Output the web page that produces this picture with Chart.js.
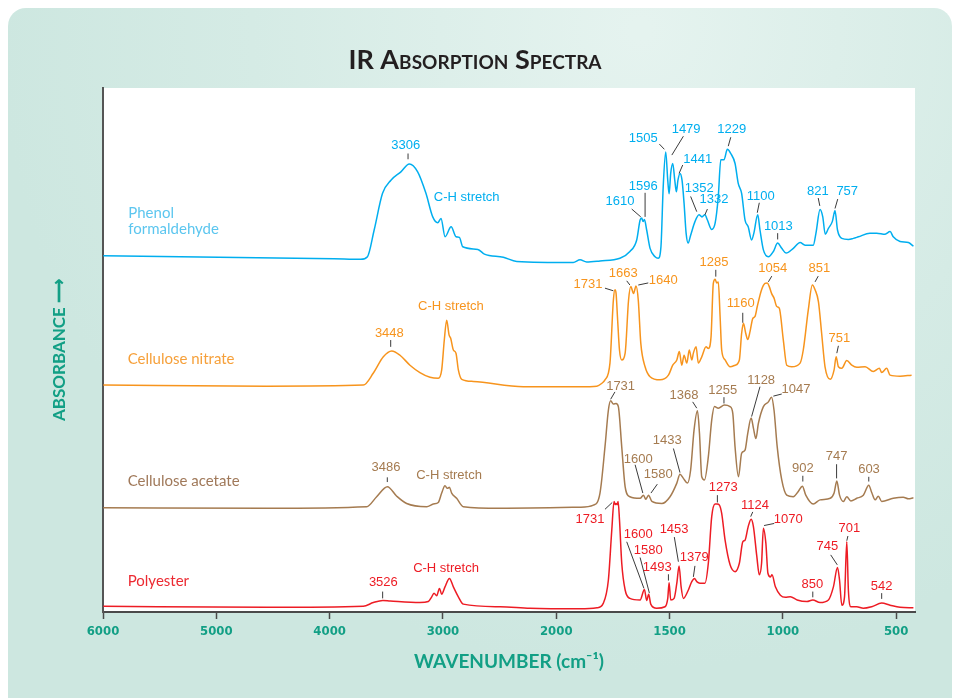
<!DOCTYPE html>
<html>
<head>
<meta charset="utf-8">
<title>IR Absorption Spectra</title>
<script src="https://cdn.jsdelivr.net/npm/chart.js@4.4.1/dist/chart.umd.min.js"></script>
<style>
    html, body { margin: 0; padding: 0; background: #ffffff; }
    #wrap { width: 954px; height: 698px; }
</style>
</head>
<body>
<div id="wrap"><canvas id="irChart" width="954" height="698"></canvas></div>
<script>
// x axis ticks (cm-1); the scale doubles below 2000 like on the printed chart
const xTickLabels = [6000, 5000, 4000, 3000, 2000, 1500, 1000, 500];
const xLowest = 417;

const seriesNames = ['Phenol formaldehyde', 'Cellulose nitrate', 'Cellulose acetate', 'Polyester'];

// Phenol formaldehyde
const phenolWn = [5997, 3961, 3725, 3666, 3607, 3533, 3459, 3371, 3297, 3223, 3150, 3090, 3046, 3017, 2981, 2928, 2884, 2855, 2825, 2692, 2634, 2467, 2349, 1925, 1895, 1866, 1807, 1719, 1675, 1645, 1630, 1623, 1617, 1611, 1601, 1586, 1564, 1550, 1538, 1528, 1517, 1508, 1502, 1495, 1486, 1477, 1470, 1463, 1454, 1445, 1436, 1427, 1418, 1407, 1388, 1370, 1357, 1344, 1333, 1314, 1299, 1285, 1274, 1260, 1245, 1230, 1211, 1197, 1182, 1167, 1153, 1138, 1128, 1111, 1101, 1086, 1064, 1042, 1023, 1005, 986, 954, 924, 902, 866, 854, 836, 824, 813, 799, 782, 770, 759, 740, 711, 689, 667, 616, 586, 549, 527, 513, 483, 446, 424];
const phenolAbs = [68.0, 67.4, 67.3, 67.8, 72.9, 79.9, 82.4, 84.0, 85.5, 84.0, 79.9, 75.4, 74.3, 75.1, 71.6, 73.5, 71.6, 71.5, 69.7, 69.2, 68.3, 67.7, 66.9, 66.7, 67.2, 66.8, 67.0, 67.5, 68.8, 71.0, 74.8, 75.2, 74.5, 74.9, 72.9, 69.4, 67.8, 67.5, 69.7, 81.2, 87.8, 82.4, 79.8, 83.7, 85.6, 82.4, 80.2, 82.4, 83.7, 82.4, 78.0, 72.3, 70.4, 71.9, 74.5, 75.8, 75.4, 75.8, 74.8, 73.0, 74.2, 79.3, 86.3, 86.3, 88.3, 87.5, 85.6, 81.8, 79.9, 74.8, 73.5, 71.0, 72.3, 75.8, 72.9, 69.1, 67.8, 68.8, 70.4, 69.4, 68.5, 69.4, 70.5, 70.0, 70.0, 72.3, 76.8, 75.4, 72.1, 73.2, 74.5, 76.6, 72.9, 71.3, 71.1, 71.3, 71.6, 72.3, 72.3, 72.1, 72.6, 71.6, 70.7, 70.5, 69.8];

// Cellulose nitrate
const nitrateWn = [5997, 4555, 3703, 3614, 3526, 3452, 3379, 3291, 3203, 3114, 3041, 3011, 2988, 2967, 2946, 2931, 2908, 2885, 2864, 2834, 2732, 2290, 1895, 1821, 1800, 1785, 1763, 1748, 1741, 1736, 1730, 1721, 1711, 1696, 1681, 1671, 1659, 1648, 1638, 1627, 1608, 1586, 1542, 1505, 1486, 1468, 1457, 1446, 1436, 1424, 1413, 1402, 1395, 1383, 1373, 1358, 1339, 1329, 1317, 1307, 1299, 1292, 1285, 1277, 1270, 1255, 1233, 1211, 1192, 1182, 1174, 1164, 1155, 1145, 1133, 1123, 1113, 1094, 1079, 1069, 1060, 1050, 1039, 1027, 1016, 998, 983, 961, 924, 910, 888, 870, 858, 843, 829, 814, 791, 774, 765, 755, 740, 718, 696, 674, 637, 601, 574, 564, 542, 527, 483, 432];
const nitrateAbs = [43.3, 43.1, 43.3, 45.6, 48.7, 49.8, 49.0, 47.1, 45.7, 44.8, 44.6, 46.2, 51.9, 55.7, 52.9, 52.2, 50.0, 49.4, 46.2, 44.4, 44.0, 43.0, 43.0, 43.1, 43.6, 44.3, 47.5, 59.5, 61.5, 60.8, 56.4, 50.0, 48.1, 49.4, 59.5, 62.1, 60.8, 62.2, 59.5, 51.3, 46.8, 44.9, 44.3, 45.2, 47.1, 48.1, 49.7, 47.1, 49.0, 47.5, 50.0, 48.1, 49.4, 50.6, 47.5, 48.7, 50.6, 50.3, 52.5, 62.7, 63.5, 62.8, 63.0, 56.4, 50.0, 48.1, 46.8, 47.1, 48.1, 53.2, 55.1, 53.2, 52.0, 53.5, 56.0, 56.4, 58.3, 61.5, 62.7, 62.8, 62.1, 60.8, 59.9, 58.3, 58.0, 51.9, 47.1, 46.8, 47.5, 50.0, 57.6, 62.4, 61.5, 59.2, 53.2, 46.8, 44.4, 46.2, 48.7, 46.8, 46.5, 48.0, 47.1, 46.7, 46.8, 45.9, 46.5, 45.7, 46.5, 45.2, 45.0, 45.2];

// Cellulose acetate
const acetateWn = [5997, 4555, 3673, 3585, 3490, 3408, 3320, 3143, 3085, 3041, 3011, 2982, 2961, 2943, 2923, 2879, 2820, 2496, 1895, 1836, 1807, 1785, 1770, 1760, 1748, 1736, 1726, 1711, 1696, 1675, 1630, 1615, 1605, 1593, 1578, 1534, 1498, 1468, 1454, 1439, 1421, 1407, 1392, 1377, 1368, 1358, 1346, 1329, 1314, 1302, 1285, 1258, 1233, 1221, 1211, 1196, 1182, 1167, 1155, 1140, 1130, 1119, 1108, 1086, 1064, 1050, 1039, 1025, 1005, 983, 954, 932, 914, 899, 866, 836, 791, 774, 762, 750, 733, 718, 700, 674, 645, 621, 608, 593, 579, 564, 513, 469, 446, 424];
const acetateAbs = [19.9, 19.8, 20.1, 22.0, 23.9, 22.1, 20.7, 20.1, 20.6, 20.9, 22.7, 24.1, 23.6, 23.8, 22.7, 21.7, 20.1, 19.8, 20.0, 20.4, 22.7, 31.5, 38.5, 40.3, 39.7, 39.8, 39.2, 31.5, 23.9, 22.0, 21.7, 22.3, 21.5, 22.3, 21.1, 20.7, 22.0, 24.6, 26.3, 25.5, 24.6, 27.1, 34.7, 38.4, 34.1, 25.8, 25.2, 29.6, 36.6, 39.2, 38.9, 39.5, 39.2, 37.9, 31.5, 25.8, 30.3, 30.9, 34.1, 37.0, 35.1, 33.1, 36.0, 39.2, 40.1, 41.0, 38.5, 31.5, 25.2, 22.3, 22.0, 23.0, 24.0, 22.3, 20.6, 21.4, 21.7, 22.7, 25.0, 22.3, 21.1, 22.0, 21.2, 21.7, 22.3, 24.2, 22.8, 21.4, 22.1, 21.1, 21.7, 21.9, 21.6, 21.8];

// Polyester
const polyesterWn = [5997, 4555, 3703, 3614, 3531, 3466, 3203, 3129, 3099, 3079, 3055, 3031, 3011, 2982, 2943, 2908, 2864, 2820, 2496, 2232, 1895, 1820, 1792, 1770, 1755, 1745, 1740, 1736, 1731, 1727, 1721, 1711, 1696, 1675, 1630, 1611, 1601, 1592, 1583, 1557, 1520, 1508, 1502, 1495, 1480, 1468, 1458, 1449, 1439, 1417, 1402, 1390, 1380, 1366, 1344, 1329, 1314, 1299, 1290, 1280, 1270, 1255, 1233, 1211, 1192, 1177, 1167, 1153, 1140, 1130, 1115, 1104, 1094, 1086, 1075, 1066, 1055, 1048, 1033, 1011, 989, 967, 937, 894, 868, 836, 799, 777, 759, 750, 740, 728, 718, 711, 700, 674, 645, 608, 564, 527, 483, 424];
const polyesterAbs = [1.1, 0.9, 1.1, 1.8, 2.2, 2.1, 1.8, 2.0, 2.9, 3.6, 3.1, 4.5, 3.4, 4.8, 6.4, 4.8, 2.9, 1.5, 1.0, 0.7, 0.6, 0.8, 1.7, 6.1, 15.6, 21.1, 20.5, 20.7, 20.5, 21.1, 17.6, 9.3, 4.2, 2.6, 2.3, 4.3, 2.2, 3.4, 1.5, 0.7, 1.0, 2.6, 5.6, 2.3, 2.6, 5.5, 8.8, 4.8, 2.6, 4.2, 5.8, 6.4, 5.8, 5.5, 5.5, 9.3, 18.2, 20.6, 20.6, 20.4, 18.8, 13.7, 9.0, 7.7, 9.3, 13.4, 13.7, 16.3, 17.7, 16.3, 10.6, 7.1, 9.3, 16.0, 13.1, 7.4, 6.7, 7.1, 4.8, 3.2, 2.8, 2.9, 2.3, 2.0, 2.3, 1.8, 2.3, 4.8, 8.5, 6.1, 1.3, 2.9, 13.4, 4.2, 1.0, 1.0, 0.7, 1.0, 1.7, 1.3, 0.9, 0.8];

// peak labels: [text, label cm-1, label level, leader from cm-1, level, leader to cm-1, level]
const phenolNotes = [
    ['3306', 3329, 89.1, 3308, 87.5, 3308, 86.4],
    ['C-H stretch', 2790, 79.1],
    ['1505', 1616, 90.4, 1545, 89.3, 1523, 88.3],
    ['1479', 1427, 92.0, 1439, 90.8, 1490, 87.2],
    ['1441', 1376, 86.4, 1442, 85.3, 1458, 83.7],
    ['1229', 1226, 92.0, 1230, 90.6, 1241, 88.9],
    ['1596', 1616, 81.3, 1608, 80.0, 1608, 75.4],
    ['1610', 1719, 78.3, 1667, 76.9, 1627, 75.4],
    ['1352', 1369, 80.9, 1407, 79.3, 1380, 76.4],
    ['1332', 1304, 78.8, 1333, 76.9, 1344, 75.8],
    ['1100', 1098, 79.4, 1104, 78.1, 1113, 76.2],
    ['1013', 1020, 73.5, 1023, 72.3, 1023, 71.1],
    ['821', 846, 80.3, 844, 79.0, 837, 77.5],
    ['757', 716, 80.2, 758, 78.8, 770, 77.0]
];
const nitrateNotes = [
    ['3448', 3473, 53.2, 3461, 51.9, 3461, 50.6],
    ['C-H stretch', 2929, 58.3],
    ['1731', 1860, 62.6, 1785, 61.8, 1748, 61.3],
    ['1663', 1704, 64.6, 1689, 63.2, 1675, 62.4],
    ['1640', 1528, 63.2, 1594, 62.8, 1638, 62.4],
    ['1285', 1304, 66.7, 1296, 65.3, 1296, 64.0],
    ['1160', 1186, 58.9, 1177, 57.1, 1177, 55.2],
    ['1054', 1045, 65.6, 1049, 64.1, 1064, 63.0],
    ['851', 839, 65.6, 844, 64.1, 858, 63.0],
    ['751', 751, 52.2, 755, 50.8, 762, 49.4]
];
const acetateNotes = [
    ['3486', 3502, 27.5, 3491, 25.7, 3491, 24.8],
    ['C-H stretch', 2946, 26.1],
    ['1731', 1716, 43.0, 1741, 42.0, 1760, 40.6],
    ['1600', 1638, 29.2, 1652, 28.1, 1618, 22.7],
    ['1580', 1550, 26.3, 1554, 24.4, 1582, 22.7],
    ['1433', 1510, 32.7, 1483, 31.2, 1454, 26.6],
    ['1368', 1436, 41.4, 1398, 40.1, 1380, 38.9],
    ['1255', 1265, 42.2, 1260, 41.0, 1260, 39.8],
    ['1128', 1096, 44.1, 1101, 43.0, 1138, 37.3],
    ['1047', 942, 42.4, 1005, 41.6, 1042, 41.2],
    ['902', 912, 27.4, 912, 26.0, 912, 24.9],
    ['747', 763, 29.6, 763, 28.2, 763, 25.5],
    ['603', 620, 27.2, 621, 25.8, 621, 24.9]
];
const polyesterNotes = [
    ['3526', 3526, 5.6, 3532, 3.9, 3532, 2.6],
    ['C-H stretch', 2973, 8.3],
    ['1731', 1851, 17.6, 1785, 19.6, 1753, 20.9],
    ['1600', 1638, 14.9, 1689, 13.4, 1613, 4.5],
    ['1580', 1594, 11.8, 1630, 10.4, 1589, 3.6],
    ['1493', 1554, 8.5, 1505, 7.2, 1505, 6.0],
    ['1453', 1480, 15.8, 1479, 14.3, 1461, 9.6],
    ['1379', 1391, 10.4, 1388, 8.8, 1395, 6.7],
    ['1273', 1263, 23.8, 1289, 22.3, 1289, 20.9],
    ['1124', 1123, 20.4, 1133, 19.1, 1142, 18.2],
    ['1070', 976, 17.6, 1038, 16.9, 1083, 16.5],
    ['850', 870, 5.3, 868, 3.9, 868, 2.8],
    ['745', 804, 12.6, 789, 10.9, 760, 9.0],
    ['701', 707, 16.0, 713, 14.5, 718, 13.6],
    ['542', 564, 4.8, 564, 3.6, 564, 2.5]
];

// series names written inside the plot: [lines, cm-1 of left edge, level of first line]
const nameLines = [['Phenol', 'formaldehyde'], ['Cellulose nitrate'], ['Cellulose acetate'], ['Polyester']];
const nameAnchors = [[5777, 76.1], [5782, 48.2], [5782, 25.0], [5782, 5.8]];

const lineColors = ['#00aeef', '#f7941d', '#a57b50', '#ed1c24'];
const nameColors = ['#5cc6ef', '#f6a03a', '#a0795a', '#ec2a32'];
const teal = '#129f85';

// wavenumber <-> position on the x scale (double spread below 2000 cm-1)
function toAxis(w) {
    return w >= 2000 ? w : 2 * w - 2000;
}

function fromAxis(t) {
    return t >= 2000 ? t : (t + 2000) / 2;
}

function toPoints(wn, abs) {
    return wn.map((w, i) => ({x: toAxis(w), y: abs[i]}));
}

const panelBackground = {
    id: 'panelBackground',
    beforeDraw(chart) {
        const {ctx, width, height, chartArea: a} = chart;
        ctx.save();
        ctx.fillStyle = '#ffffff';
        ctx.fillRect(0, 0, width, height);
        const g = ctx.createRadialGradient(640, 30, 10, 640, 30, 640);
        g.addColorStop(0, '#e5f3ef');
        g.addColorStop(0.6, '#d5ebe5');
        g.addColorStop(1, '#cde7e0');
        ctx.fillStyle = g;
        ctx.beginPath();
        ctx.roundRect(8, 8, width - 10, height + 20, 18);
        ctx.fill();
        ctx.fillStyle = '#ffffff';
        ctx.fillRect(a.left, a.top, a.right - a.left, a.bottom - a.top);
        ctx.restore();
    }
};

const peakNotes = {
    id: 'peakNotes',
    afterDatasetsDraw(chart) {
        const {ctx, scales: {x, y}} = chart;
        const groups = [phenolNotes, nitrateNotes, acetateNotes, polyesterNotes];
        ctx.save();
        groups.forEach((notes, s) => {
            notes.forEach(([text, tw, tv, w1, v1, w2, v2]) => {
                if (w1 !== undefined) {
                    ctx.strokeStyle = '#3b3b3b';
                    ctx.lineWidth = 1;
                    ctx.beginPath();
                    ctx.moveTo(x.getPixelForValue(toAxis(w1)), y.getPixelForValue(v1));
                    ctx.lineTo(x.getPixelForValue(toAxis(w2)), y.getPixelForValue(v2));
                    ctx.stroke();
                }
                ctx.fillStyle = lineColors[s];
                ctx.font = '13px "Liberation Sans", Arial, sans-serif';
                ctx.textAlign = 'center';
                ctx.textBaseline = 'middle';
                ctx.fillText(text, x.getPixelForValue(toAxis(tw)), y.getPixelForValue(tv));
            });
            const [nw, nv] = nameAnchors[s];
            ctx.fillStyle = nameColors[s];
            ctx.font = '15px Lato, "Open Sans", sans-serif';
            ctx.textAlign = 'left';
            nameLines[s].forEach((line, i) => {
                ctx.fillText(line, x.getPixelForValue(toAxis(nw)), y.getPixelForValue(nv) + i * 16);
            });
        });
        ctx.restore();
    }
};

const ctx = document.getElementById('irChart').getContext('2d');
const irChart = new Chart(ctx, {
    type: 'line',
    data: {
        datasets: [
            {label: seriesNames[0], data: toPoints(phenolWn, phenolAbs), borderColor: lineColors[0]},
            {label: seriesNames[1], data: toPoints(nitrateWn, nitrateAbs), borderColor: lineColors[1]},
            {label: seriesNames[2], data: toPoints(acetateWn, acetateAbs), borderColor: lineColors[2]},
            {label: seriesNames[3], data: toPoints(polyesterWn, polyesterAbs), borderColor: lineColors[3]}
        ]
    },
    options: {
        responsive: false,
        animation: false,
        // left padding balances the right one so the title sits mid-canvas
        layout: {padding: {left: 35, right: 39, top: 0, bottom: 0}},
        elements: {
            point: {radius: 0},
            line: {borderWidth: 1.5, cubicInterpolationMode: 'monotone', fill: false}
        },
        plugins: {
            legend: {display: false},
            tooltip: {enabled: false},
            title: {
                display: true,
                text: 'IR Absorption Spectra',
                color: '#231f20',
                // font-variant goes in front of the weight in the canvas font string
                font: {family: 'Lato', size: 27, weight: 'small-caps bold'},
                padding: {top: 44, bottom: 11.6}
            }
        },
        scales: {
            x: {
                type: 'linear',
                reverse: true,
                min: toAxis(xLowest),
                max: 6000,
                afterBuildTicks: scale => {
                    scale.ticks = xTickLabels.map(w => ({value: toAxis(w)}));
                },
                afterFit: scale => {
                    scale.height = 86;
                },
                ticks: {
                    autoSkip: false,
                    maxRotation: 0,
                    padding: 5,
                    color: teal,
                    font: {family: '"Liberation Sans Narrow", "DejaVu Sans Condensed", sans-serif', size: 13, weight: 'bold'},
                    callback: value => String(fromAxis(value))
                },
                grid: {display: true, drawOnChartArea: false, drawTicks: true, tickLength: 7, tickColor: '#4a4a4a', tickWidth: 1.5},
                border: {display: true, color: '#4a4a4a', width: 2},
                title: {
                    display: true,
                    text: 'WAVENUMBER (cm⁻¹)',
                    color: teal,
                    font: {family: 'Lato', size: 19, weight: 'bold'},
                    padding: {top: 4, bottom: 25}
                }
            },
            y: {
                type: 'linear',
                min: 0,
                max: 100,
                afterFit: scale => {
                    scale.width = 68;
                },
                ticks: {display: false},
                grid: {display: false},
                border: {display: true, color: '#555555', width: 2},
                title: {
                    display: true,
                    text: 'ABSORBANCE ⟶',
                    color: teal,
                    font: {family: 'Lato', size: 17, weight: 'bold'},
                    padding: {top: 14, bottom: 0}
                }
            }
        }
    },
    plugins: [panelBackground, peakNotes]
});
</script>
</body>
</html>
